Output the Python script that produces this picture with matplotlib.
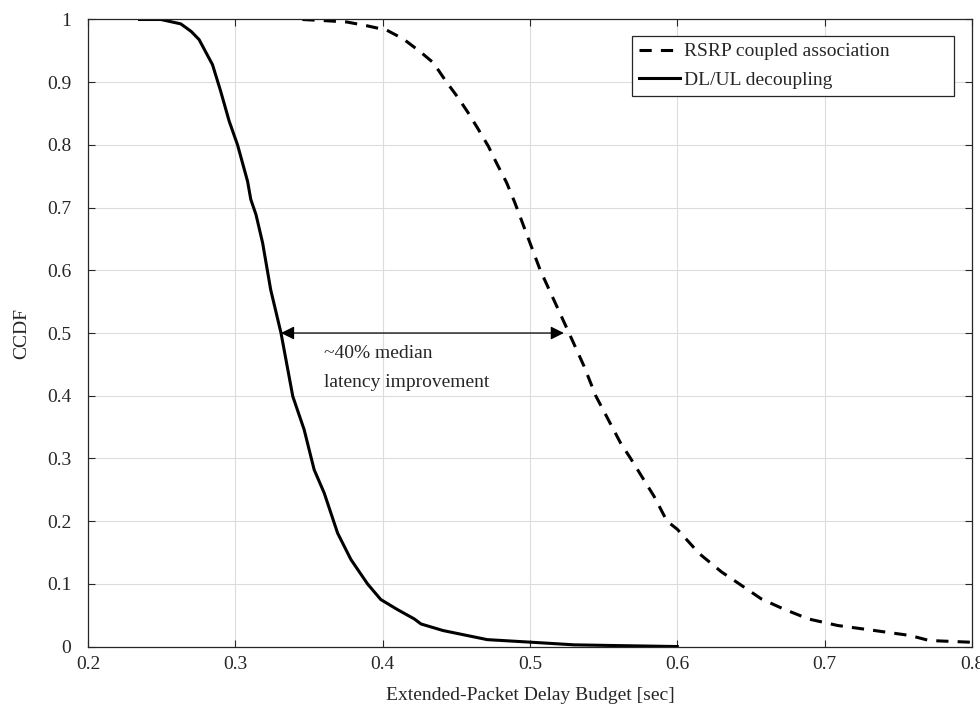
import matplotlib.pyplot as plt
import matplotlib.ticker as ticker

plt.rcParams['font.family'] = ['Liberation Serif', 'DejaVu Serif']
plt.rcParams['font.size'] = 14
plt.rcParams['text.color'] = '#262626'
plt.rcParams['axes.labelcolor'] = '#262626'
plt.rcParams['xtick.color'] = '#262626'
plt.rcParams['ytick.color'] = '#262626'

# DL/UL decoupling (solid)
decoupled_x = [0.235, 0.2495, 0.263, 0.270, 0.2754, 0.2845, 0.290, 0.2958, 0.3015, 0.3083,
               0.3105, 0.314, 0.3185, 0.324, 0.331, 0.339, 0.3467, 0.3535, 0.3603, 0.3694,
               0.3784, 0.3897, 0.3987, 0.41, 0.4215, 0.426, 0.441, 0.471, 0.5, 0.53, 0.56, 0.6]
decoupled_y = [1.0, 1.0, 0.993, 0.981, 0.968, 0.928, 0.886, 0.838, 0.80, 0.742,
               0.713, 0.689, 0.644, 0.569, 0.5, 0.399, 0.346, 0.282, 0.245, 0.181,
               0.139, 0.10, 0.075, 0.059, 0.044, 0.036, 0.0255, 0.011, 0.007, 0.0027, 0.0015, 0.0]

# RSRP coupled association (dashed)
coupled_x = [0.3455, 0.362, 0.3757, 0.3893, 0.4028, 0.414, 0.4253, 0.4344, 0.4434, 0.4513,
             0.4581, 0.4649, 0.4717, 0.4773, 0.4841, 0.4897, 0.507, 0.5265, 0.5367, 0.5446,
             0.5614, 0.5683, 0.5841, 0.593, 0.6, 0.615, 0.630, 0.642, 0.657, 0.672,
             0.689, 0.709, 0.734, 0.758, 0.771, 0.799]
coupled_y = [1.0, 0.998, 0.996, 0.990, 0.983, 0.969, 0.949, 0.931, 0.9, 0.875,
             0.851, 0.825, 0.798, 0.771, 0.740, 0.708, 0.6, 0.5, 0.447, 0.4,
             0.325, 0.3, 0.24, 0.2, 0.187, 0.148, 0.119, 0.100, 0.076, 0.060,
             0.044, 0.0335, 0.0255, 0.0176, 0.0096, 0.0069]

# median arrow end points
arrow_left = 0.331
arrow_right = 0.523
median_level = 0.5

fig = plt.figure(figsize=(9.8, 7.09), dpi=100)
ax = fig.add_axes([0.0898, 0.0881, 0.902, 0.8844])

ax.plot(coupled_x, coupled_y, color='black', lw=2.2, dashes=(4, 3),
        label='RSRP coupled association')
ax.plot(decoupled_x, decoupled_y, color='black', lw=2.2, label='DL/UL decoupling')

ax.annotate('', xy=(arrow_left, median_level), xytext=(arrow_right, median_level),
            arrowprops=dict(arrowstyle='<|-|>', color='black', lw=0.9,
                            mutation_scale=20, shrinkA=0, shrinkB=0))
ax.text(0.36, 0.468, '~40% median', va='center', ha='left')
ax.text(0.36, 0.421, 'latency improvement', va='center', ha='left')

ax.set_xlim(0.2, 0.8)
ax.set_ylim(0, 1)
ax.xaxis.set_major_locator(ticker.MultipleLocator(0.1))
ax.yaxis.set_major_locator(ticker.MultipleLocator(0.1))
ax.xaxis.set_major_formatter(ticker.FormatStrFormatter('%g'))
ax.yaxis.set_major_formatter(ticker.FuncFormatter(lambda v, p: '%g' % round(v, 2)))
ax.tick_params(direction='in', top=True, right=True, length=5, width=0.8)
ax.tick_params(axis='y', pad=12)
ax.tick_params(axis='x', pad=7)

ax.grid(True, color='#dcdcdc', lw=0.8)
ax.set_axisbelow(True)
for s in ax.spines.values():
    s.set_color('#262626')
    s.set_linewidth(0.9)

ax.set_xlabel('Extended-Packet Delay Budget [sec]', labelpad=10)
ax.set_ylabel('CCDF', labelpad=12)

# wide MATLAB-style legend box
leg = ax.legend(loc='upper left', bbox_to_anchor=(0.6154, 0.8705, 0.3642, 0.1032),
                mode='expand', borderaxespad=0,
                fancybox=False, framealpha=1, edgecolor='#262626',
                handlelength=2.1, handletextpad=0.2, labelspacing=0.55,
                borderpad=0.35)
leg.get_frame().set_linewidth(0.9)

plt.savefig('out.png', dpi=100)
